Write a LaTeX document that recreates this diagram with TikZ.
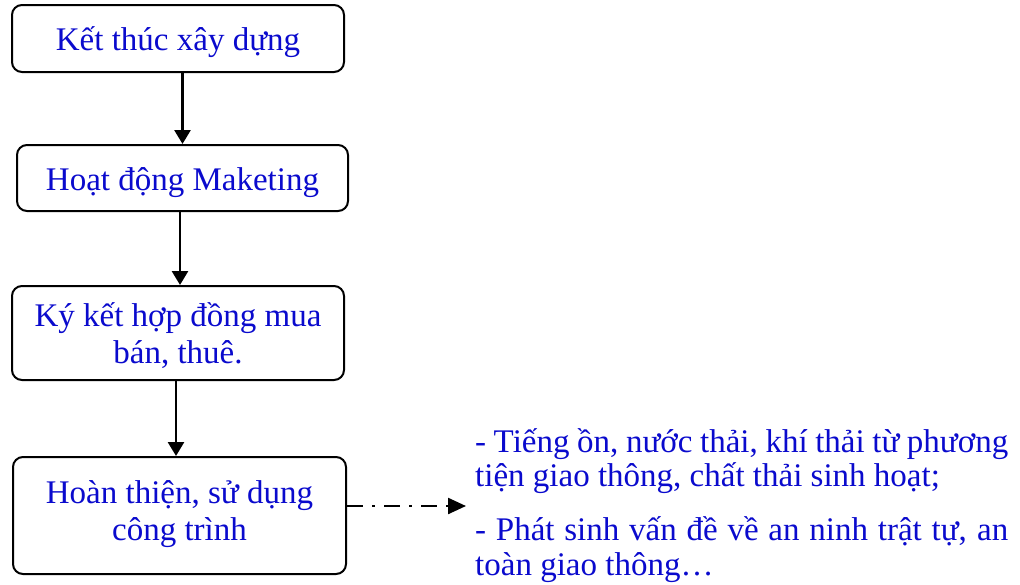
\documentclass[tikz,border=0pt]{standalone}
\usepackage{fontspec}
\setmainfont{Liberation Serif}
\usetikzlibrary{arrows.meta}
\definecolor{textblue}{RGB}{10,10,205}
% a line of box text with a fixed height above its baseline and no depth
\newcommand\boxline[2][24pt]{\rule{0pt}{#1}\smash{#2}}
\begin{document}
\begin{tikzpicture}[x=1pt,y=-1pt,
  stepbox/.style={draw=black,line width=2pt,rounded corners=10pt,
    inner sep=0pt,align=center,text=textblue,
    font=\fontsize{33}{37}\selectfont},
  flow/.style={line width=2.6pt,-{Triangle[length=14pt,width=16pt]}},
  effect/.style={line width=2.4pt,dash pattern=on 16pt off 9pt on 3pt off 9pt,
    -{Triangle[length=18pt,width=16pt]}},
  note/.style={anchor=base west,inner sep=0pt,text=textblue,
    font=\fontsize{33}{37}\selectfont}]
\useasboundingbox (0,0) rectangle (1020,584);

\node[stepbox,minimum width=332pt,minimum height=67pt] (s1) at (178,38.5)
  {\boxline{Kết thúc xây dựng}};
\node[stepbox,minimum width=331pt,minimum height=66pt] (s2) at (182.5,178)
  {\boxline{Hoạt động Maketing}};
\node[stepbox,minimum width=332pt,minimum height=94pt] (s3) at (178,333)
  {\boxline{Ký kết hợp đồng mua}\\\boxline[0pt]{bán, thuê.}};
\node[stepbox,minimum width=333pt,minimum height=117pt] (s4) at (179.5,515.5)
  {\boxline[12pt]{Hoàn thiện, sử dụng}\\\boxline[0pt]{công trình}};

\draw[flow] (s1.south -| s2.north) -- (s2.north);
\draw[flow] ([xshift=-2.5pt]s2.south) -- ([xshift=-2.5pt]s2.south |- s3.north);
\draw[flow] ([xshift=-2pt]s3.south) -- ([xshift=-2pt]s3.south |- s4.north);

\coordinate (tip) at (466,506);
\draw[effect] (s4.east |- tip) -- (tip);

\node[note] (n1) at (475,452) {\makebox[533pt][s]{- Tiếng ồn, nước thải, khí thải từ phương}};
\node[note] (n2) at (475,486) {tiện giao thông, chất thải sinh hoạt;};
\node[note] (n3) at (475,540) {\makebox[533pt][s]{- Phát sinh vấn đề về an ninh trật tự, an}};
\node[note] (n4) at (475,575) {toàn giao thông…};
\end{tikzpicture}
\end{document}
